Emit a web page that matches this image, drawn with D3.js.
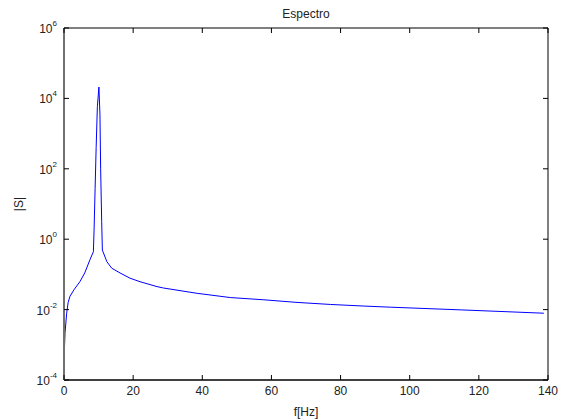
<!DOCTYPE html>
<html>
<head>
<meta charset="utf-8">
<script src="https://cdn.jsdelivr.net/npm/d3@7"></script>
<style>
  body { margin: 0; background: #fff; }
  text { font-family: "Liberation Sans", Arial, sans-serif; fill: #222; }
</style>
</head>
<body>
<div class="chart"></div>
<script>
// spectrum
const freqs = [0, 0.3, 0.77, 1.2, 1.74, 3.0, 4.6, 6.0, 7.5, 8.5, 8.7, 9.0, 9.3, 9.65, 10.1,
  10.4, 10.6, 10.9, 11.1, 12.4, 13.8, 16.2, 19.1, 22.0, 26.9, 28.8, 38.5, 48.1, 57.8,
  67.4, 77.1, 86.8, 94.5, 115, 138.8];
const mags = [3.7e-4, 2.2e-3, 7.9e-3, 1.6e-2, 2.4e-2, 3.8e-2, 6.2e-2, 0.11, 0.26, 0.44, 1.8, 28, 400, 5.8e3, 2.1e4,
  3.4e3, 100, 3.2, 0.49, 0.23, 0.15, 0.11, 7.8e-2, 6.2e-2, 4.5e-2, 4.1e-2, 2.9e-2, 2.2e-2, 1.9e-2,
  1.6e-2, 1.4e-2, 1.26e-2, 1.17e-2, 9.8e-3, 7.9e-3];
const xTicks = [0, 20, 40, 60, 80, 100, 120, 140];
const yTicks = [-4, -2, 0, 2, 4, 6];

const W = 564, H = 419;
const margin = {left: 64, right: 16, top: 28, bottom: 39};

const svg = d3.select(".chart").append("svg")
  .attr("width", W)
  .attr("height", H);

const x = d3.scaleLinear().domain([0, 140]).range([margin.left, W - margin.right]);
const y = d3.scaleLog().domain([1e-4, 1e6]).range([H - margin.bottom, margin.top]);

const x0 = x(0), x1 = x(140), y0 = y(1e-4), y1 = y(1e6);
const tl = 5;

// curve
const line = d3.line()
  .x((d, i) => x(freqs[i]))
  .y(d => y(d));

svg.append("path")
  .datum(mags)
  .attr("d", line)
  .attr("fill", "none")
  .attr("stroke", "#0000ff")
  .attr("stroke-width", 1);

// box
svg.append("line").attr("x1", x0).attr("x2", x1).attr("y1", y1).attr("y2", y1)
  .attr("stroke", "#000");
svg.append("line").attr("x1", x0).attr("x2", x1).attr("y1", y0).attr("y2", y0)
  .attr("stroke", "#000").attr("stroke-width", 1.5);
svg.append("line").attr("x1", x1).attr("x2", x1).attr("y1", y1).attr("y2", y0)
  .attr("stroke", "#000");
svg.append("line").attr("x1", x0).attr("x2", x0).attr("y1", y1).attr("y2", y0)
  .attr("stroke", "#707070").attr("stroke-width", 2);

// x ticks (bottom and top, inward)
xTicks.forEach(t => {
  svg.append("line").attr("x1", x(t)).attr("x2", x(t)).attr("y1", y0).attr("y2", y0 - tl)
    .attr("stroke", "#000");
  svg.append("line").attr("x1", x(t)).attr("x2", x(t)).attr("y1", y1).attr("y2", y1 + tl)
    .attr("stroke", "#000");
  svg.append("text")
    .attr("x", x(t))
    .attr("y", y0 + 15)
    .attr("text-anchor", "middle")
    .attr("font-size", "12px")
    .text(t);
});

// y ticks (left and right, inward)
yTicks.forEach(e => {
  const v = Math.pow(10, e);
  svg.append("line").attr("x1", x0).attr("x2", x0 + tl).attr("y1", y(v)).attr("y2", y(v))
    .attr("stroke", "#000");
  svg.append("line").attr("x1", x1).attr("x2", x1 - tl).attr("y1", y(v)).attr("y2", y(v))
    .attr("stroke", "#000");
  const lab = svg.append("text")
    .attr("x", x0 - 7)
    .attr("y", y(v) + 5)
    .attr("text-anchor", "end")
    .attr("font-size", "12px");
  lab.append("tspan").text("10");
  lab.append("tspan")
    .attr("dy", -7)
    .attr("font-size", "8px")
    .text(e);
});

// title and labels
svg.append("text")
  .attr("x", (x0 + x1) / 2)
  .attr("y", 18)
  .attr("text-anchor", "middle")
  .attr("font-size", "12px")
  .text("Espectro");

svg.append("text")
  .attr("x", (x0 + x1) / 2)
  .attr("y", 416)
  .attr("text-anchor", "middle")
  .attr("font-size", "12px")
  .text("f[Hz]");

svg.append("text")
  .attr("transform", `translate(23, ${(y0 + y1) / 2}) rotate(-90)`)
  .attr("text-anchor", "middle")
  .attr("font-size", "12px")
  .text("|S|");
</script>
</body>
</html>
